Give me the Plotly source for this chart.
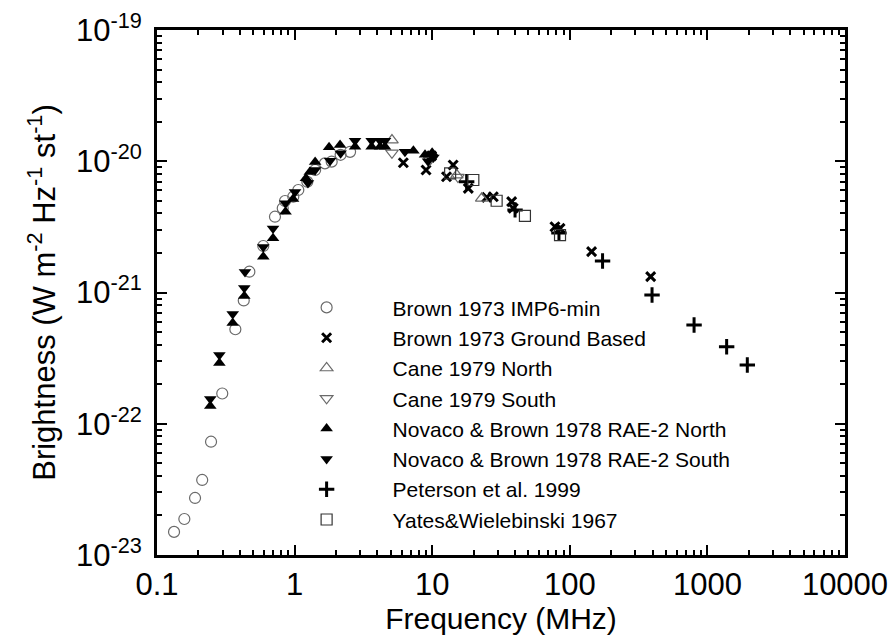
import plotly.graph_objects as go

# ---- data (frequency MHz, brightness W m^-2 Hz^-1 st^-1) ----
imp6_f = [0.133, 0.158, 0.189, 0.213, 0.247, 0.298, 0.371, 0.427, 0.469, 0.592, 0.72, 0.82, 0.852,
          0.978, 1.064, 1.237, 1.41, 1.66, 1.86, 2.16, 2.53]
imp6_b = [1.5e-23, 1.88e-23, 2.72e-23, 3.73e-23, 7.3e-23, 1.7e-22, 5.25e-22, 8.7e-22, 1.44e-21, 2.26e-21,
          3.78e-21, 4.38e-21, 4.98e-21, 5.37e-21, 6.04e-21, 6.98e-21, 8.58e-21, 9.64e-21, 9.93e-21,
          1.12e-20, 1.18e-20]

ground_f = [6.17, 9.02, 9.9, 12.7, 14.2, 18.3, 24.9, 27.8, 37.8, 38.8, 78, 84.9, 144, 387]
ground_b = [9.75e-21, 8.58e-21, 1.1e-20, 7.62e-21, 9.36e-21, 6.22e-21, 5.31e-21, 5.37e-21, 4.92e-21,
            4.38e-21, 3.17e-21, 3.08e-21, 2.05e-21, 1.32e-21]

cane_n_f = [5.1, 15.1, 22.9]
cane_n_b = [1.45e-20, 7.85e-21, 5.22e-21]
cane_s_f = [5.1, 9.6, 15.4]
cane_s_b = [1.16e-20, 1.02e-20, 7.58e-21]

nov_n_f = [0.244, 0.284, 0.355, 0.431, 0.592, 0.697, 0.859, 0.974, 1.21, 1.29, 1.41, 1.78, 2.14,
           2.75, 3.63, 4.18, 4.54, 7.3, 8.87, 9.99]
nov_n_b = [1.365e-22, 2.9e-22, 5.86e-22, 9.4e-22, 1.875e-21, 2.59e-21, 4.13e-21, 5.15e-21, 7.41e-21,
           8.28e-21, 9.86e-21, 1.28e-20, 1.33e-20, 1.29e-20, 1.29e-20, 1.29e-20, 1.29e-20, 1.2e-20,
           1.12e-20, 1.16e-20]

nov_s_f = [0.244, 0.284, 0.355, 0.431, 0.436, 0.592, 0.697, 0.859, 1.007, 1.25, 1.41, 1.81, 2.16,
           2.75, 3.63, 4.18, 4.54, 6.34, 9.33, 10.2]
nov_s_b = [1.545e-22, 3.34e-22, 6.85e-22, 1.08e-21, 1.43e-21, 2.22e-21, 3.08e-21, 4.79e-21, 5.83e-21,
           6.83e-21, 8.58e-21, 1.01e-20, 1.15e-20, 1.43e-20, 1.43e-20, 1.43e-20, 1.43e-20, 1.18e-20,
           1.0e-20, 1.07e-20]

peter_f = [17.8, 40, 83.4, 173, 396, 800, 1380, 1950]
peter_b = [6.98e-21, 4.26e-21, 2.84e-21, 1.74e-21, 9.57e-22, 5.65e-22, 3.86e-22, 2.8e-22]

yates_f = [13.5, 19.9, 29.4, 47.2, 84.9]
yates_b = [8.09e-21, 7.2e-21, 5.0e-21, 3.83e-21, 2.74e-21]

x_tickvals = [0.1, 1, 10, 100, 1000, 10000]
x_ticktext = ["0.1", "1", "10", "100", "1000", "10000"]
y_tickvals = [1e-23, 1e-22, 1e-21, 1e-20, 1e-19]
y_ticktext = ["10<sup>-23</sup>", "10<sup>-22</sup>", "10<sup>-21</sup>", "10<sup>-20</sup>", "10<sup>-19</sup>"]

FONT = "Liberation Sans, Arial, sans-serif"
GRAY = "#6a6a6a"

series = [
    ("Brown 1973 IMP6-min", imp6_f, imp6_b, dict(symbol="circle-open", size=11, color=GRAY, line=dict(width=1.2, color=GRAY))),
    ("Brown 1973 Ground Based", ground_f, ground_b, dict(symbol="x-thin", size=9, color="black", line=dict(width=3, color="black"))),
    ("Cane 1979 North", cane_n_f, cane_n_b, dict(symbol="triangle-up-open", size=11, color=GRAY, line=dict(width=1.2, color=GRAY))),
    ("Cane 1979 South", cane_s_f, cane_s_b, dict(symbol="triangle-down-open", size=11, color=GRAY, line=dict(width=1.2, color=GRAY))),
    ("Novaco & Brown 1978 RAE-2 North", nov_n_f, nov_n_b, dict(symbol="triangle-up", size=11, color="black", line=dict(width=0))),
    ("Novaco & Brown 1978 RAE-2 South", nov_s_f, nov_s_b, dict(symbol="triangle-down", size=11, color="black", line=dict(width=0))),
    ("Peterson et al. 1999", peter_f, peter_b, dict(symbol="cross-thin", size=11, color="black", line=dict(width=3, color="black"))),
    ("Yates&Wielebinski 1967", yates_f, yates_b, dict(symbol="square-open", size=11, color="#333333", line=dict(width=1.2, color="#333333"))),
]

fig = go.Figure()
for i, (name, f, b, mk) in enumerate(series):
    fig.add_trace(go.Scatter(x=f, y=b, mode="markers", name=name, marker=mk,
                             legendgroup=f"g{i}"))

axis_common = dict(
    type="log", showline=True, linewidth=3, linecolor="black", mirror="ticks",
    ticks="inside", ticklen=10, tickwidth=2, tickcolor="black",
    showgrid=False, zeroline=False,
    minor=dict(ticks="inside", ticklen=5, tickwidth=1.5, tickcolor="black", dtick="D1", showgrid=False),
    tickfont=dict(family=FONT, size=31, color="black"),
)

fig.update_xaxes(**axis_common, range=[-1, 4], tickvals=x_tickvals, ticktext=x_ticktext,
                 title=dict(text="Frequency (MHz)", font=dict(family=FONT, size=30, color="black"), standoff=4))
fig.update_yaxes(**axis_common, range=[-23, -19], tickvals=y_tickvals, ticktext=y_ticktext,
                 ticklabelstandoff=6,
                 title=dict(text="Brightness (W m<sup>-2</sup> Hz<sup>-1</sup> st<sup>-1</sup>)",
                            font=dict(family=FONT, size=31, color="black"), standoff=12))

fig.update_layout(
    width=896, height=635,
    margin=dict(l=157, r=51, t=30, b=80, autoexpand=False),
    paper_bgcolor="white", plot_bgcolor="white",
    font=dict(family=FONT, color="black"),
    legend=dict(x=0.1506, y=0.51, xanchor="left", yanchor="top", bgcolor="rgba(0,0,0,0)",
                font=dict(family=FONT, size=21, color="black"), itemwidth=122, tracegroupgap=0),
)

fig.write_html("out.html")
